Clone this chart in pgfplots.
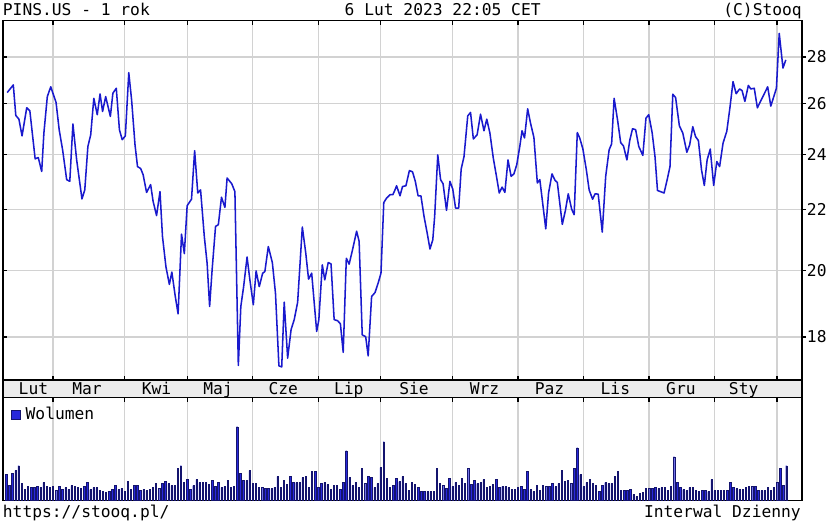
\documentclass[border=0pt]{standalone}
\usepackage{fontspec}
\setmainfont{DejaVu Sans Mono}
\setmonofont{DejaVu Sans Mono}
\usepackage{pgfplots}
\pgfplotsset{compat=1.18}

\definecolor{linecol}{RGB}{25,25,205}
\definecolor{volfill}{RGB}{40,40,220}
\definecolor{voldraw}{RGB}{20,20,110}
\definecolor{gridcol}{RGB}{210,210,210}
\definecolor{bandcol}{RGB}{236,236,236}

\pgfplotsset{
  stooq/.style={
    scale only axis, width=599.25pt, anchor=south west,
    xmin=-1, xmax=255,
    xtick={15,38,58,79,100,120,143,164,185,206,227,247}, xticklabels={},
    major tick length=3pt,
    tick style={black, line width=0.9pt},
    axis line style={line width=1pt},
    grid style={gridcol, line width=0.9pt},
    /pgf/number format/assume math mode=true,
  },
}

\begin{document}
\fontsize{12.2}{14}\selectfont
\begin{tikzpicture}
\path[use as bounding box] (0,0) rectangle (622.5pt,-393.75pt);

% cena (skala log)
\begin{axis}[stooq, at={(2.25pt,-285pt)}, height=269.5pt,
  ymode=log, ymin=16.82, ymax=29.65,
  ytick={18,20,22,24,26,28}, yticklabels={}, yminorticks=false,
  xmajorgrids, ymajorgrids, tick align=inside, xtick pos=both, ytick pos=left]
\addplot[linecol, line width=1.15pt, line join=round] coordinates {
(0.35,26.47)(2.3,26.79)(3.1,25.53)(4.1,25.38)(5.1,24.72)(6.6,25.84)(7.6,25.72)(9.3,23.84)(10.3,23.89)(11.4,23.37)
(12.1,24.83)(13.2,26.30)(14.3,26.71)(16.0,26.06)(17.0,24.96)(18.1,24.18)(19.4,23.07)(20.4,23.01)(21.4,25.19)(22.6,23.80)
(24.3,22.38)(25.2,22.70)(26.2,24.31)(27.1,24.76)(28.1,26.23)(29.2,25.56)(30.1,26.41)(30.9,25.69)(31.9,26.30)(33.4,25.49)
(34.2,26.44)(35.3,26.65)(36.3,24.96)(37.2,24.57)(38.2,24.72)(39.3,27.31)(40.2,26.17)(41.3,24.37)(42.1,23.55)(43.1,23.48)
(43.9,23.25)(45.0,22.61)(46.3,22.89)(47.1,22.29)(48.2,21.80)(49.3,22.64)(50.1,21.09)(51.2,20.11)(52.3,19.56)(53.1,19.94)
(54.2,19.19)(55.1,18.67)(56.2,21.17)(57.1,20.53)(58.0,22.14)(59.4,22.37)(60.4,24.15)(61.4,22.59)(62.3,22.70)(63.5,21.09)
(64.4,20.22)(65.2,18.89)(66.0,20.01)(67.1,21.43)(68.0,21.49)(69.0,22.44)(70.1,22.08)(70.8,23.13)(72.3,22.92)(73.3,22.64)
(74.4,17.21)(75.2,18.89)(76.1,19.49)(77.2,20.42)(78.1,19.70)(79.2,18.94)(80.1,19.98)(81.1,19.49)(82.2,19.91)(82.9,19.96)
(84.0,20.76)(85.3,20.24)(86.3,19.29)(87.4,17.20)(88.3,17.17)(89.1,19.02)(90.2,17.41)(91.3,18.21)(92.3,18.50)(93.4,19.01)
(94.9,21.41)(96.0,20.55)(96.9,19.72)(97.9,19.91)(99.5,18.16)(100.2,18.50)(101.3,20.17)(102.1,19.70)(103.2,20.24)(104.1,20.20)
(105.1,18.50)(106.2,18.47)(107.1,18.38)(108.0,17.57)(109.0,20.38)(109.9,20.19)(111.0,20.66)(112.3,21.27)(113.1,20.93)(114.1,18.06)
(115.2,18.01)(116.0,17.47)(117.1,19.19)(118.2,19.31)(119.2,19.60)(120.1,19.91)(121.0,22.25)(121.9,22.41)(123.0,22.53)(123.9,22.53)
(124.6,22.70)(125.1,22.85)(126.2,22.49)(127.0,22.82)(128.1,22.85)(129.2,23.40)(130.2,23.36)(131.1,23.01)(132.0,22.49)(132.9,22.49)
(133.9,21.77)(134.9,21.21)(135.8,20.68)(136.7,20.98)(137.3,21.77)(138.3,23.99)(139.2,23.07)(140.0,22.92)(141.1,21.98)(142.2,23.01)
(143.1,22.73)(144.0,22.06)(145.0,22.06)(145.8,23.46)(146.7,23.92)(147.9,25.51)(148.8,25.65)(149.7,24.60)(150.9,24.76)(152.0,25.58)
(153.1,24.92)(154.0,25.38)(155.0,24.83)(156.1,23.86)(157.2,23.13)(158.0,22.59)(158.9,22.80)(159.8,22.61)(160.8,23.80)(161.8,23.19)
(162.7,23.28)(163.6,23.62)(164.6,24.33)(165.3,24.92)(166.1,24.64)(167.1,25.80)(168.0,25.23)(169.1,24.66)(170.2,22.95)(171.0,23.07)
(171.9,22.24)(172.9,21.35)(173.8,22.59)(174.9,23.28)(175.9,23.04)(176.6,22.97)(178.2,21.50)(179.2,21.98)(180.1,22.56)(181.2,22.02)
(182.0,21.83)(183.0,24.85)(183.8,24.63)(184.8,24.21)(185.9,23.43)(186.8,22.70)(187.9,22.37)(188.7,22.56)(189.7,22.55)(191.0,21.24)
(192.1,23.19)(193.2,24.18)(194.0,24.41)(194.8,26.23)(195.9,25.35)(196.9,24.46)(197.8,24.33)(198.9,23.80)(199.8,24.54)(200.7,25.00)
(201.7,24.96)(202.7,24.31)(204.0,23.97)(205.0,25.42)(205.9,25.56)(207.0,24.83)(207.9,23.92)(208.7,22.68)(210.8,22.59)(211.8,23.07)
(212.7,23.55)(213.6,26.40)(214.5,26.26)(215.7,25.12)(216.8,24.83)(218.1,24.09)(219.0,24.37)(220.0,25.08)(220.9,24.69)(221.8,24.54)
(222.8,23.43)(223.7,22.86)(224.6,23.80)(225.6,24.21)(226.7,22.86)(227.7,23.74)(228.6,23.55)(229.7,24.44)(230.9,24.90)(231.9,25.84)
(232.9,26.93)(233.9,26.42)(235.0,26.62)(235.8,26.55)(236.7,26.10)(237.8,26.77)(238.6,26.62)(239.7,26.65)(240.7,25.84)(244.0,26.71)
(245.0,25.91)(246.8,26.65)(247.7,29.06)(248.9,27.51)(249.8,27.87)
};
\end{axis}

% opisy osi cen po prawej
\begin{axis}[stooq, at={(2.25pt,-285pt)}, height=269.5pt,
  ymode=log, ymin=16.82, ymax=29.65, yminorticks=false,
  hide x axis, axis y line*=right, tick align=outside,
  ytick={18,20,22,24,26,28}, yticklabels={18,20,22,24,26,28},
  yticklabel style={anchor=west, inner sep=0pt, xshift=0.5pt}]
\end{axis}

% pasek miesiecy
\begin{axis}[stooq, at={(2.25pt,-298.3pt)}, height=13.3pt,
  ymin=0, ymax=1, xtick=\empty, ytick=\empty,
  axis background/.style={fill=bandcol}]
\node[anchor=base, inner sep=0pt] at (axis cs:8.75,0.21) {Lut};
\node[anchor=base, inner sep=0pt] at (axis cs:25.9,0.21) {Mar};
\node[anchor=base, inner sep=0pt] at (axis cs:48.2,0.21) {Kwi};
\node[anchor=base, inner sep=0pt] at (axis cs:67.9,0.21) {Maj};
\node[anchor=base, inner sep=0pt] at (axis cs:88.8,0.21) {Cze};
\node[anchor=base, inner sep=0pt] at (axis cs:109.8,0.21) {Lip};
\node[anchor=base, inner sep=0pt] at (axis cs:130.7,0.21) {Sie};
\node[anchor=base, inner sep=0pt] at (axis cs:153.3,0.21) {Wrz};
\node[anchor=base, inner sep=0pt] at (axis cs:174.1,0.21) {Paz};
\node[anchor=base, inner sep=0pt] at (axis cs:195.2,0.21) {Lis};
\node[anchor=base, inner sep=0pt] at (axis cs:216.2,0.21) {Gru};
\node[anchor=base, inner sep=0pt] at (axis cs:236.3,0.21) {Sty};
\end{axis}

% wolumen
\begin{axis}[stooq, at={(2.25pt,-375.5pt)}, height=77.2pt,
  ymin=0, ymax=103, ytick=\empty,
  xmajorgrids, tick align=inside, xtick pos=right,
  legend style={draw=none, fill=none, at={(0,1)}, anchor=north west,
    xshift=6pt, yshift=-6pt, inner sep=0pt,
    nodes={inner sep=1pt},
    /tikz/every odd column/.append style={column sep=2.5pt}},
  legend cell align=left]
\addplot[ybar, bar width=1pt, fill=volfill, draw=voldraw, line width=0.3pt,
  legend image code/.code={\draw[fill=volfill, draw=voldraw, line width=0.5pt] (0pt,-3.1pt) rectangle (6.8pt,3.1pt);}]
  table[x expr=\coordindex, y=v, row sep=\\] {
v\\
26\\15\\27\\30\\35\\17\\11\\14\\13\\13\\14\\13\\18\\14\\13\\14\\10\\14\\11\\13\\
11\\15\\14\\13\\12\\14\\18\\11\\13\\13\\10\\9\\8\\9\\11\\15\\11\\12\\9\\19\\
11\\15\\15\\10\\11\\10\\11\\13\\17\\12\\17\\19\\17\\15\\15\\32\\35\\18\\21\\11\\
15\\21\\18\\18\\18\\16\\20\\14\\18\\13\\14\\20\\13\\14\\74\\27\\20\\20\\30\\17\\
17\\13\\13\\12\\12\\12\\13\\24\\13\\20\\16\\24\\18\\18\\18\\23\\24\\13\\29\\29\\
13\\17\\18\\16\\11\\15\\15\\11\\18\\50\\23\\15\\18\\13\\32\\17\\24\\23\\13\\17\\
33\\59\\22\\13\\15\\22\\19\\24\\17\\10\\18\\16\\13\\
9\\9\\9\\9\\9\\32\\17\\15\\12\\22\\14\\18\\15\\22\\17\\32\\16\\
20\\17\\18\\21\\13\\14\\16\\21\\13\\14\\14\\13\\11\\11\\13\\14\\11\\29\\11\\
9\\15\\10\\15\\14\\14\\17\\14\\17\\30\\19\\20\\17\\32\\53\\26\\14\\18\\21\\17\\
15\\9\\15\\18\\17\\17\\24\\29\\10\\10\\10\\11\\6\\4\\7\\8\\12\\12\\12\\13\\
12\\13\\13\\10\\14\\44\\18\\13\\11\\10\\13\\13\\10\\9\\10\\10\\9\\21\\10\\10\\
10\\10\\10\\18\\13\\12\\11\\11\\13\\14\\14\\14\\10\\10\\10\\13\\10\\13\\18\\32\\15\\35\\
};
\addlegendentry{Wolumen}
\end{axis}

% naglowek i stopka
\node[anchor=base west, inner sep=0pt] at (2pt,-11.25pt) {PINS.US - 1 rok};
\node[anchor=base, inner sep=0pt] at (332pt,-11.25pt) {6 Lut 2023 22:05 CET};
\node[anchor=base east, inner sep=0pt] at (601.5pt,-11.25pt) {(C)Stooq};
\node[anchor=base west, inner sep=0pt] at (2pt,-387.75pt) {https://stooq.pl/};
\node[anchor=base east, inner sep=0pt] at (600.75pt,-387.75pt) {Interwal Dzienny};
\end{tikzpicture}
\end{document}
